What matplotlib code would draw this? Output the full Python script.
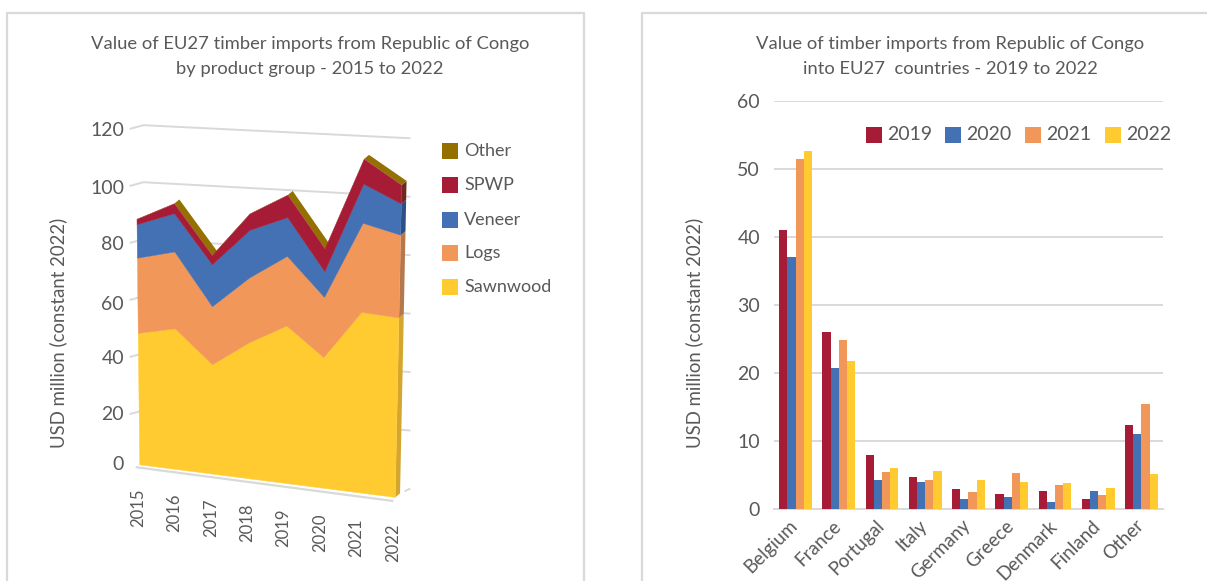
import matplotlib
matplotlib.use("Agg")
import matplotlib.pyplot as plt
from matplotlib.transforms import ScaledTranslation
import numpy as np

plt.rcParams["font.family"] = ["Lato", "DejaVu Sans"]

# left chart: USD million by product group
years = ["2015", "2016", "2017", "2018", "2019", "2020", "2021", "2022"]
sawnwood = [46.7, 49.6, 38.3, 47.3, 54.3, 44.7, 61.3, 60.6]
logs = [26.7, 27.1, 20.3, 22.5, 24.0, 20.6, 30.3, 27.9]
veneer = [11.9, 13.5, 14.7, 16.5, 13.4, 8.8, 13.3, 10.6]
spwp = [1.9, 3.5, 3.2, 5.7, 7.7, 7.8, 8.5, 6.3]
other = [0.1, 0.1, 0.1, 0.1, 0.1, 0.1, 0.1, 0.1]
left_ticks = [0, 20, 40, 60, 80, 100, 120]

# right chart: USD million by country
countries = ["Belgium", "France", "Portugal", "Italy", "Germany", "Greece", "Denmark", "Finland", "Other"]
v2019 = [41.0, 26.0, 7.9, 4.7, 2.8, 2.2, 2.6, 1.4, 12.3]
v2020 = [37.0, 20.7, 4.25, 3.9, 1.4, 1.75, 1.0, 2.6, 11.0]
v2021 = [51.4, 24.8, 5.4, 4.25, 2.45, 5.2, 3.5, 2.0, 15.4]
v2022 = [52.6, 21.7, 6.0, 5.55, 4.25, 3.9, 3.75, 3.05, 5.1]

C_TEXT = "#595959"
C_GRID = "#d9d9d9"
C_SAW = "#ffcb30"
C_LOG = "#f2975a"
C_VEN = "#4470b4"
C_RED = "#a61c36"
C_OTH = "#947000"
W, H = 1207, 581
FS_TITLE = 13.2
FS_AXIS = 13.4
FS_TICK = 14

fig = plt.figure(figsize=(W / 100, H / 100), dpi=100, facecolor="white")
# canvas in pixel coordinates for the fake 3D chart and the panels
cv = fig.add_axes([0, 0, 1, 1])
cv.set_xlim(0, W)
cv.set_ylim(H, 0)
cv.axis("off")

# panel frames
for x0, x1 in [(7, 584), (642, W + 5)]:
    cv.plot([x0, x0, x1, x1], [H + 5, 13, 13, H + 5], color=C_GRID, lw=1.6)


def front(i, v):
    # perspective of the chart's front plane
    i, v = np.asarray(i, float), np.asarray(v, float)
    x = 267.5 + 0.015 * v + (i - 3.5) * (36.5 + 0.0133 * v)
    y = (1255 + 12.57 * i - v * (7.6 + 0.057 * i)) / 2.7
    return x, y


def wall(t, v):
    # back wall gridlines, t is 0..1 from left to right
    x = 143.5 + t * 266
    y = ((1262 - 7.7 * v) * (1 - t) + (1320 - 7.89 * v) * t) / 2.7
    return x, y


# wall gridlines
for v in left_ticks:
    x0, y0 = wall(0, v)
    x1, y1 = wall(1, v)
    if v > 0:
        cv.plot([x0 - 13, x0, x1], [y0 + 3.5, y0, y1], color=C_GRID, lw=1.4, zorder=1)
    else:
        cv.plot([x1 - 4, x1], [y1 + 2, y1], color=C_GRID, lw=1.4, zorder=1)
# floor edge under the front plane
fx, fy = front(np.array([0, 7]), np.array([0, 0]))
cv.plot(fx + np.array([-3, -3]), fy + np.array([2.5, 3.5]), color=C_GRID, lw=1.6, zorder=1)

layers = [sawnwood, logs, veneer, spwp, other]
layer_cols = [C_SAW, C_LOG, C_VEN, C_RED, C_OTH]
side_cols = ["#d3a630", "#b5774c", "#2c4f86", "#6f2a1e", "#5f3c0a"]
cum = np.cumsum(np.array(layers), axis=0)
idx = np.arange(len(years))
DX, DY = 4.8, -4.0

# top face of the extrusion, only seen on the falling stretches
tx, ty = front(idx, cum[-1])
for i in idx[:-1]:
    if ty[i + 1] > ty[i]:
        cv.fill([tx[i], tx[i + 1], tx[i + 1] + DX, tx[i] + DX],
                [ty[i], ty[i + 1], ty[i + 1] + DY, ty[i] + DY], color=C_OTH, lw=0, zorder=2)

# right hand side face
base = np.zeros(len(years))
for k, top in enumerate(cum):
    x0, y0 = front(7, base[-1])
    x1, y1 = front(7, top[-1])
    cv.fill([x0, x1, x1 + DX, x0 + DX], [y0, y1, y1 + DY, y0 + DY], color=side_cols[k], lw=0, zorder=2)
    base = top

# front faces
base = np.zeros(len(years))
for k, top in enumerate(cum):
    xt, yt = front(idx, top)
    xb, yb = front(idx, base)
    edge = layer_cols[k] if k < 4 else "none"
    cv.fill(np.r_[xb, xt[::-1]], np.r_[yb, yt[::-1]], fc=layer_cols[k], lw=0.3, ec=edge, zorder=3)
    base = top

# left chart labels
left_label_y = [464, 414, 358, 304, 245, 188, 130]
for v, y in zip(left_ticks, left_label_y):
    cv.text(124, y, str(v), ha="right", va="center", color=C_TEXT, fontsize=FS_TICK)
for i, yr in enumerate(years):
    cv.text(138 + 36.4 * i, 508 + 5 * i, yr, rotation=90, ha="center", va="center", color=C_TEXT, fontsize=12)
cv.text(58, 333, "USD million (constant 2022)", rotation=90, ha="center", va="center", color=C_TEXT, fontsize=FS_AXIS)
cv.text(310, 44, "Value of EU27 timber imports from Republic of Congo",
        ha="center", va="center", color=C_TEXT, fontsize=FS_TITLE)
cv.text(310, 69, "by product group - 2015 to 2022",
        ha="center", va="center", color=C_TEXT, fontsize=FS_TITLE)

# left legend
legend_names = ["Other", "SPWP", "Veneer", "Logs", "Sawnwood"]
legend_cols = [C_OTH, C_RED, C_VEN, C_LOG, C_SAW]
for name, col, y in zip(legend_names, legend_cols, [151, 185, 220, 253, 287]):
    cv.fill([442, 458, 458, 442], [y - 8, y - 8, y + 8, y + 8], color=col, lw=0)
    cv.text(464, y, name, ha="left", va="center", color=C_TEXT, fontsize=13)

# right chart, regular bar axes
ax = fig.add_axes([774 / W, 1 - 508.5 / H, 389 / W, 407.8 / H])
ax.patch.set_alpha(0)
series = [v2019, v2020, v2021, v2022]
bar_cols = [C_RED, C_VEN, C_LOG, C_SAW]
bar_names = ["2019", "2020", "2021", "2022"]
xs = np.arange(len(countries))
bw = 0.19
for k, vals in enumerate(series):
    ax.bar(xs + (k - 1.5) * bw, vals, width=bw, color=bar_cols[k], zorder=3)
ax.set_xlim(-0.5, len(countries) - 0.5)
ax.set_ylim(0, 60)
ax.set_yticks(range(0, 61, 10))
ax.yaxis.grid(True, color=C_GRID, lw=1.4, zorder=0)
ax.set_axisbelow(True)
for s in ["top", "right", "left"]:
    ax.spines[s].set_visible(False)
ax.spines["bottom"].set_color(C_GRID)
ax.spines["bottom"].set_linewidth(1.4)
ax.tick_params(length=0, labelcolor=C_TEXT, labelsize=FS_TICK)
ax.tick_params(axis="y", pad=10)
ax.set_xticks(xs)
ax.set_xticklabels(countries, rotation=45, ha="right", rotation_mode="anchor", fontsize=13.5)
ax.tick_params(axis="x", pad=6)
# nudge the slanted labels left
shift = ScaledTranslation(-5 / 72, 0, fig.dpi_scale_trans)
for lab in ax.get_xticklabels():
    lab.set_transform(lab.get_transform() + shift)

cv.text(694, 333, "USD million (constant 2022)", rotation=90, ha="center", va="center", color=C_TEXT, fontsize=FS_AXIS)
cv.text(950, 44, "Value of timber imports from Republic of Congo",
        ha="center", va="center", color=C_TEXT, fontsize=FS_TITLE)
cv.text(950, 69, "into EU27  countries - 2019 to 2022",
        ha="center", va="center", color=C_TEXT, fontsize=FS_TITLE)

# right legend
for name, col, x in zip(bar_names, bar_cols, [866, 945, 1025, 1105]):
    cv.fill([x, x + 16, x + 16, x], [127, 127, 143, 143], color=col, lw=0, zorder=5)
    cv.text(x + 21, 135, name, ha="left", va="center", color=C_TEXT, fontsize=14, zorder=5)

fig.savefig("out.png", dpi=100)
